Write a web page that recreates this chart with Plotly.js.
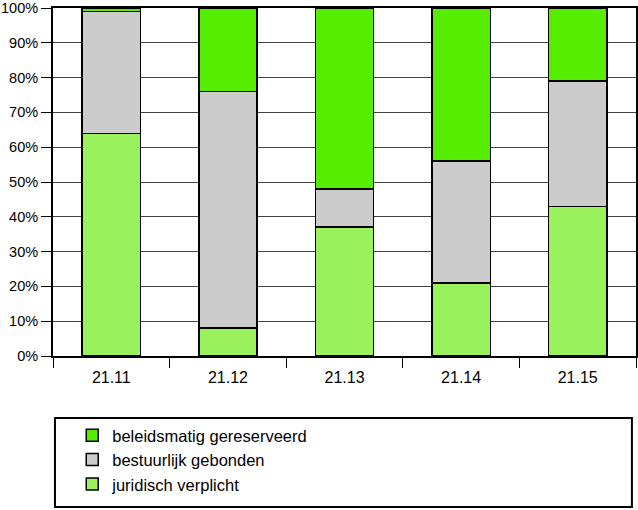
<!DOCTYPE html>
<html>
<head>
<meta charset="utf-8">
<script src="https://cdn.plot.ly/plotly-3.0.1.min.js"></script>
<style>html,body{margin:0;padding:0;background:#fff;}#chart{width:638px;height:510px;}</style>
</head>
<body>
<div id="chart"></div>
<script>
var categories = ["21.11", "21.12", "21.13", "21.14", "21.15"];
var juridisch = [64, 8, 37, 21, 43];
var bestuurlijk = [35, 68, 11, 35, 36];
var beleidsmatig = [1, 24, 52, 44, 21];
var seriesNames = ["juridisch verplicht", "bestuurlijk gebonden", "beleidsmatig gereserveerd"];
var seriesColors = ["#99F25C", "#CCCCCC", "#55EE00"];
var yTickVals = [0, 10, 20, 30, 40, 50, 60, 70, 80, 90, 100];
var yTickText = ["0%", "10%", "20%", "30%", "40%", "50%", "60%", "70%", "80%", "90%", "100%"];

var seriesValues = [juridisch, bestuurlijk, beleidsmatig];
var traces = seriesValues.map(function (vals, i) {
  return {
    type: "bar",
    x: categories,
    y: vals,
    name: seriesNames[i],
    marker: { color: seriesColors[i], line: { color: "#000", width: 1.5 } },
    hoverinfo: "skip"
  };
});

var font = "Liberation Sans, Arial, sans-serif";
var narrow = "Liberation Sans Narrow, Arial Narrow, Liberation Sans, sans-serif";
var layout = {
  width: 638, height: 510,
  margin: { l: 53, r: 2, t: 8, b: 154 },
  barmode: "stack",
  bargap: 0.5,
  paper_bgcolor: "#fff", plot_bgcolor: "#fff",
  font: { family: font, size: 14, color: "#000" },
  xaxis: {
    type: "category",
    tickson: "boundaries",
    ticks: "outside", ticklen: 10, tickwidth: 1, tickcolor: "#000",
    ticklabelstandoff: 6,
    showline: true, linecolor: "#000", linewidth: 2, mirror: true,
    showgrid: false,
    tickfont: { family: narrow, size: 16 },
    fixedrange: true
  },
  yaxis: {
    range: [0, 100],
    tickvals: yTickVals, ticktext: yTickText,
    ticks: "outside", ticklen: 10, tickwidth: 1, tickcolor: "#000",
    ticklabeloverflow: "allow",
    showline: true, linecolor: "#000", linewidth: 2, mirror: true,
    showgrid: true, gridcolor: "#444", gridwidth: 1,
    zeroline: false,
    tickfont: { family: font, size: 14.5 },
    fixedrange: true
  },
  showlegend: true,
  legend: {
    traceorder: "reversed",
    x: 0.033, y: -0.178, xanchor: "left", yanchor: "top",
    bgcolor: "rgba(0,0,0,0)",
    font: { family: font, size: 16.5, color: "#000" }
  },
  shapes: [{
    type: "rect", xref: "paper", yref: "paper",
    x0: 0.0034, x1: 0.993, y0: -0.4339, y1: -0.1782,
    line: { color: "#000", width: 2 }, fillcolor: "rgba(0,0,0,0)"
  }]
};

Plotly.newPlot("chart", traces, layout, { staticPlot: true, displayModeBar: false });
</script>
</body>
</html>
